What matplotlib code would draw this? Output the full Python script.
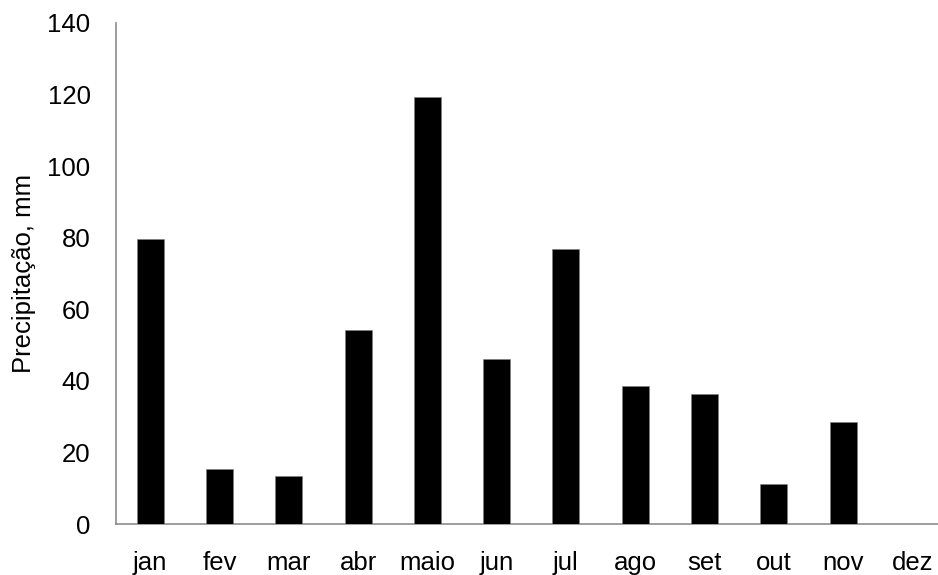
import numpy as np
import matplotlib
matplotlib.use("Agg")
import matplotlib.pyplot as plt

# monthly rainfall (mm)
months = ["jan", "fev", "mar", "abr", "maio", "jun", "jul", "ago", "set", "out", "nov", "dez"]
rain_mm = [79.7, 15.3, 13.6, 54.2, 119.3, 46.0, 76.8, 38.5, 36.3, 11.2, 28.6, 0.0]
y_ticks = [0, 20, 40, 60, 80, 100, 120, 140]

plt.rcParams['font.family'] = ['Liberation Sans', 'DejaVu Sans']

fig = plt.figure(figsize=(9.38, 5.75), dpi=100)
ax = fig.add_axes([115.5 / 938, 50.7 / 575, 831.6 / 938, 501.6 / 575])

x = np.arange(len(months))
ax.bar(x, rain_mm, width=0.39, color='black', edgecolor='#808080', linewidth=0.4, zorder=3)

ax.set_xlim(-0.5, len(months) - 0.5)
ax.set_ylim(0, 140)
ax.set_yticks(y_ticks)
ax.set_xticks(x)
ax.set_xticklabels(months)

for side in ['top', 'right']:
    ax.spines[side].set_visible(False)
for side in ['left', 'bottom']:
    ax.spines[side].set_color('#8c8c8c')
    ax.spines[side].set_linewidth(1.2)

ax.tick_params(axis='y', length=0, pad=18, labelsize=18.5)
ax.tick_params(axis='x', length=0, pad=19, labelsize=18.5)
ax.set_ylabel("Precipitação, mm", fontsize=18.5, labelpad=8)

fig.savefig("out.png", dpi=100)
